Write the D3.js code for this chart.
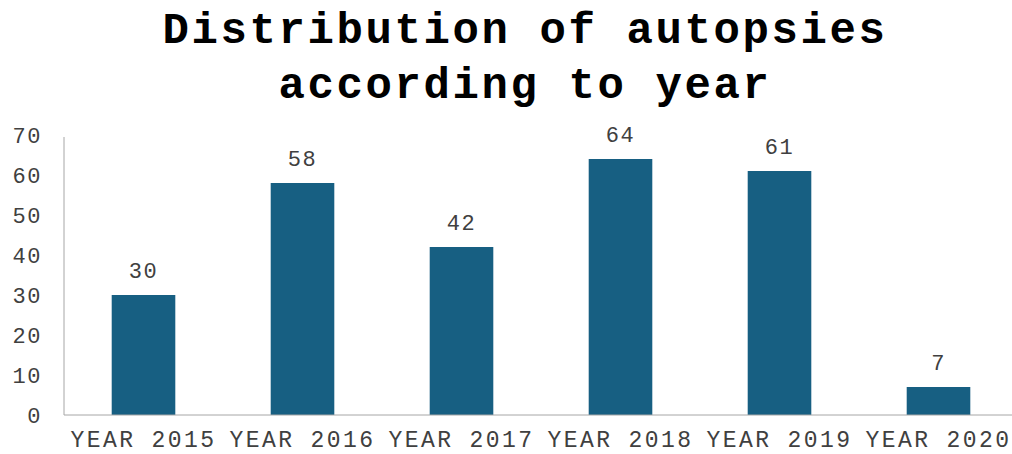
<!DOCTYPE html>
<html>
<head>
<meta charset="utf-8">
<script src="https://cdn.jsdelivr.net/npm/d3@7"></script>
<style>
  body { margin: 0; background: #fff; }
  text { font-family: "Liberation Mono", "Courier New", monospace; }
</style>
</head>
<body>
<div id="chart"></div>
<script>
var categories = ["YEAR 2015", "YEAR 2016", "YEAR 2017", "YEAR 2018", "YEAR 2019", "YEAR 2020"];
var values = [30, 58, 42, 64, 61, 7];
var yTicks = [0, 10, 20, 30, 40, 50, 60, 70];
var titleLines = ["Distribution of autopsies", "according to year"];

var width = 1012, height = 454;
var margin = { top: 135, right: 0, bottom: 39, left: 64 };

var svg = d3.select("#chart").append("svg")
    .attr("width", width)
    .attr("height", height);

var x = d3.scaleBand()
    .domain(categories)
    .range([margin.left, 1018])
    .paddingInner(0.6)
    .paddingOuter(0.3);

var y = d3.scaleLinear()
    .domain([0, 70])
    .range([height - margin.bottom, margin.top]);

// title
svg.selectAll(".title")
    .data(titleLines)
    .enter().append("text")
    .attr("class", "title")
    .attr("x", 525)
    .attr("y", (d, i) => 43 + i * 55)
    .attr("text-anchor", "middle")
    .attr("font-size", 44)
    .attr("font-weight", "bold")
    .attr("letter-spacing", 2.6)
    .attr("fill", "#000")
    .text(d => d);

// y axis
var yAxis = svg.append("g")
    .attr("transform", "translate(" + margin.left + ",0)")
    .call(d3.axisLeft(y).tickValues(yTicks).tickSize(0).tickPadding(22));
yAxis.select(".domain").attr("stroke", "#a6a6a6").attr("d", "M0," + y(0) + "V" + (y(70) + 2));
yAxis.selectAll("text")
    .attr("font-size", 22)
    .attr("letter-spacing", 1.5)
    .attr("fill", "#404040")
    .style("font-family", "'Liberation Mono', monospace");

// bars
svg.selectAll(".bar")
    .data(values)
    .enter().append("rect")
    .attr("class", "bar")
    .attr("x", (d, i) => x(categories[i]))
    .attr("y", d => y(d))
    .attr("width", x.bandwidth())
    .attr("height", d => y(0) - y(d))
    .attr("fill", "#175f82");

// x axis
var xAxis = svg.append("g")
    .attr("transform", "translate(0," + y(0) + ")")
    .call(d3.axisBottom(x).tickSize(0).tickPadding(16));
xAxis.select(".domain").attr("stroke", "#a6a6a6").attr("d", "M" + margin.left + ",0H1012");
xAxis.selectAll("text")
    .attr("font-size", 23)
    .attr("letter-spacing", 2.4)
    .attr("fill", "#404040")
    .style("font-family", "'Liberation Mono', monospace");

// value labels
svg.selectAll(".label")
    .data(values)
    .enter().append("text")
    .attr("class", "label")
    .attr("x", (d, i) => x(categories[i]) + x.bandwidth() / 2)
    .attr("y", d => y(d) - 17)
    .attr("text-anchor", "middle")
    .attr("font-size", 22)
    .attr("letter-spacing", 1.5)
    .attr("fill", "#404040")
    .text(d => d);
</script>
</body>
</html>
